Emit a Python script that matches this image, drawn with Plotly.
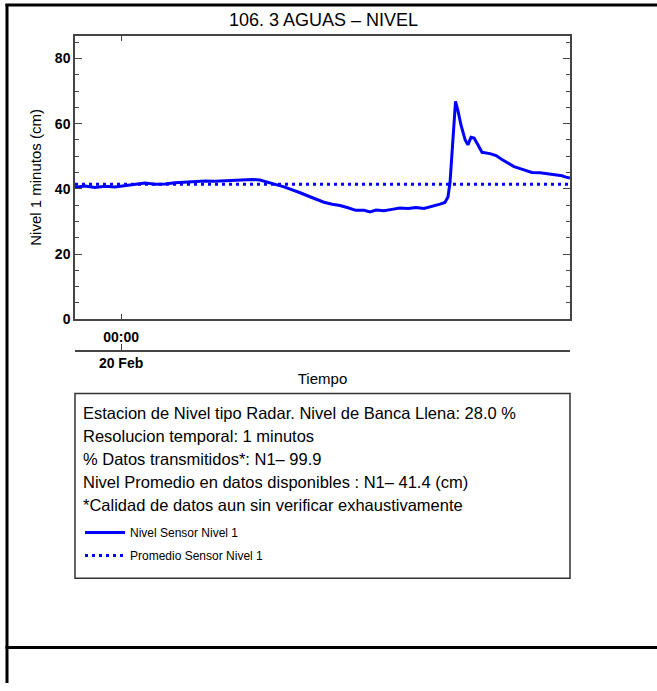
import plotly.graph_objects as go

# ---- data ----
times = [
    "2024-02-19 21:46", "2024-02-19 22:15", "2024-02-19 22:44", "2024-02-19 23:13", "2024-02-19 23:42",
    "2024-02-20 00:11", "2024-02-20 00:41", "2024-02-20 01:10", "2024-02-20 01:39", "2024-02-20 02:08",
    "2024-02-20 02:37", "2024-02-20 03:06", "2024-02-20 03:35", "2024-02-20 04:04", "2024-02-20 04:33",
    "2024-02-20 05:02", "2024-02-20 05:31", "2024-02-20 06:01", "2024-02-20 06:21", "2024-02-20 06:44",
    "2024-02-20 07:07", "2024-02-20 07:31", "2024-02-20 07:54", "2024-02-20 08:17", "2024-02-20 08:41",
    "2024-02-20 09:04", "2024-02-20 09:27", "2024-02-20 09:50", "2024-02-20 10:14", "2024-02-20 10:37",
    "2024-02-20 11:00", "2024-02-20 11:23", "2024-02-20 11:47", "2024-02-20 12:04", "2024-02-20 12:22",
    "2024-02-20 12:45", "2024-02-20 13:08", "2024-02-20 13:31", "2024-02-20 13:55", "2024-02-20 14:18",
    "2024-02-20 14:41", "2024-02-20 15:05", "2024-02-20 15:28", "2024-02-20 15:42", "2024-02-20 15:51",
    "2024-02-20 15:57", "2024-02-20 16:03", "2024-02-20 16:09", "2024-02-20 16:13", "2024-02-20 16:20",
    "2024-02-20 16:29", "2024-02-20 16:41", "2024-02-20 16:49", "2024-02-20 16:58", "2024-02-20 17:07",
    "2024-02-20 17:18", "2024-02-20 17:30", "2024-02-20 17:53", "2024-02-20 18:11", "2024-02-20 18:28",
    "2024-02-20 18:46", "2024-02-20 19:03", "2024-02-20 19:21", "2024-02-20 19:38", "2024-02-20 19:55",
    "2024-02-20 20:19", "2024-02-20 20:42", "2024-02-20 21:05", "2024-02-20 21:23", "2024-02-20 21:34",
    "2024-02-20 21:46",
]
nivel = [
    40.5, 40.9, 40.4, 40.8, 40.6,
    41.0, 41.3, 41.8, 41.4, 41.5,
    41.9, 42.1, 42.2, 42.4, 42.3,
    42.5, 42.6, 42.9, 42.9, 42.7,
    41.9, 41.3, 40.6, 39.6, 38.8,
    37.8, 36.9, 35.9, 35.3, 34.9,
    34.2, 33.4, 33.4, 32.9, 33.5,
    33.3, 33.7, 34.1, 34.0, 34.3,
    34.0, 34.6, 35.3, 35.8, 37.5,
    42.0, 52.0, 62.0, 66.8, 64.0,
    59.5, 55.0, 53.5, 55.8, 55.6,
    53.5, 51.2, 50.8, 50.2, 49.0,
    47.8, 46.8, 46.2, 45.6, 45.0,
    44.9, 44.6, 44.3, 44.0, 43.6,
    43.3,
]
promedio = 41.4
t_start, t_end = "2024-02-19 21:46", "2024-02-20 21:46"
tick_time = ["2024-02-20 00:00"]
tick_hour = ["00:00"]
tick_day = ["20 Feb"]

title = "106. 3 AGUAS \u2013 NIVEL"
info_lines = [
    "Estacion de Nivel tipo Radar. Nivel de Banca Llena: 28.0 %",
    "Resolucion temporal: 1 minutos",
    "% Datos transmitidos*: N1\u2013 99.9",
    "Nivel Promedio en datos disponibles : N1\u2013 41.4 (cm)",
    "*Calidad de datos aun sin verificar exhaustivamente",
]

W, H = 657, 691
FONT = "Liberation Sans, Arial, Helvetica, sans-serif"
BLUE = "#0000ff"
AX = "#444444"

def px(x):
    return x / W

def py(y):
    return 1 - y / H

fig = go.Figure()
fig.add_trace(go.Scatter(
    x=times, y=nivel, mode="lines", name="Nivel Sensor Nivel 1",
    line=dict(color=BLUE, width=3), legendgroup="a",
))
fig.add_trace(go.Scatter(
    x=[t_start, t_end], y=[promedio, promedio], mode="lines", name="Promedio Sensor Nivel 1",
    line=dict(color=BLUE, width=3, dash="3px,4px"), xaxis="x2", legendgroup="b",
))

fig.update_layout(
    width=W, height=H, autosize=False,
    margin=dict(l=0, r=0, t=0, b=0),
    paper_bgcolor="white", plot_bgcolor="white",
    font=dict(family=FONT, color="black"),
    showlegend=True,
    legend=dict(
        x=px(80), y=py(524), xanchor="left", yanchor="top",
        bgcolor="rgba(0,0,0,0)", borderwidth=0,
        font=dict(size=12, family=FONT, color="black"),
        tracegroupgap=4, itemwidth=40,
    ),
    xaxis=dict(
        domain=[px(75), px(570)], anchor="y",
        type="date", range=[t_start, t_end],
        tickmode="array", tickvals=tick_time, ticktext=tick_hour,
        ticks="inside", ticklen=6, tickwidth=1.2, tickcolor=AX,
        showline=True, linecolor=AX, linewidth=1.5, mirror="ticks",
        showgrid=False, zeroline=False, ticklabelstandoff=4,
        tickfont=dict(size=14, weight="bold", family=FONT),
    ),
    xaxis2=dict(
        overlaying="x", anchor="free", position=py(355),
        domain=[px(75), px(570)],
        type="date", range=[t_start, t_end],
        tickmode="array", tickvals=tick_time, ticktext=tick_day,
        ticks="inside", ticklen=6, tickwidth=1.2, tickcolor=AX,
        showline=True, linecolor=AX, linewidth=1.5,
        showgrid=False, zeroline=False, side="bottom",
        tickfont=dict(size=14, weight="bold", family=FONT),
        title=dict(text="Tiempo", font=dict(size=15, family=FONT), standoff=2),
    ),
    yaxis=dict(
        domain=[py(323), py(36)], anchor="x",
        range=[0, 87],
        tickmode="linear", tick0=0, dtick=20,
        ticks="inside", ticklen=7, tickwidth=1.2, tickcolor=AX,
        minor=dict(dtick=5, tick0=0, ticks="inside", ticklen=4, tickwidth=1.2, tickcolor=AX),
        showline=True, linecolor=AX, linewidth=1.5, mirror="ticks",
        showgrid=False, zeroline=False,
        tickfont=dict(size=14, weight="bold", family=FONT),
        title=dict(text="Nivel 1 minutos (cm)", font=dict(size=15, family=FONT), standoff=10),
    ),
)

shapes = [
    # outer frame
    dict(type="line", xref="paper", yref="paper", x0=px(5.5), x1=1, y0=py(5), y1=py(5),
         line=dict(color="black", width=3)),
    dict(type="line", xref="paper", yref="paper", x0=px(7), x1=px(7), y0=py(4), y1=0,
         line=dict(color="black", width=3)),
    dict(type="line", xref="paper", yref="paper", x0=px(5.5), x1=1, y0=py(655), y1=py(655),
         line=dict(color="black", width=3)),
    # info box
    dict(type="rect", xref="paper", yref="paper", x0=px(75), x1=px(570), y0=py(398), y1=py(585),
         line=dict(color="#333333", width=1.5)),
]
fig.update_layout(shapes=shapes)

annotations = [
    dict(text=title, xref="paper", yref="paper", x=px(323), y=py(20), showarrow=False,
         xanchor="center", yanchor="middle", font=dict(size=18, family=FONT)),
]
for i, line in enumerate(info_lines):
    annotations.append(dict(
        text=line, xref="paper", yref="paper", x=px(81), y=py(418 + i * 23.2),
        showarrow=False, xanchor="left", yanchor="middle", font=dict(size=16.5, family=FONT),
    ))
fig.update_layout(annotations=annotations)

fig.write_html(
    "out.html",
    config={"displayModeBar": False},
    post_script="document.body.style.margin='0';document.body.style.overflow='hidden';",
)
